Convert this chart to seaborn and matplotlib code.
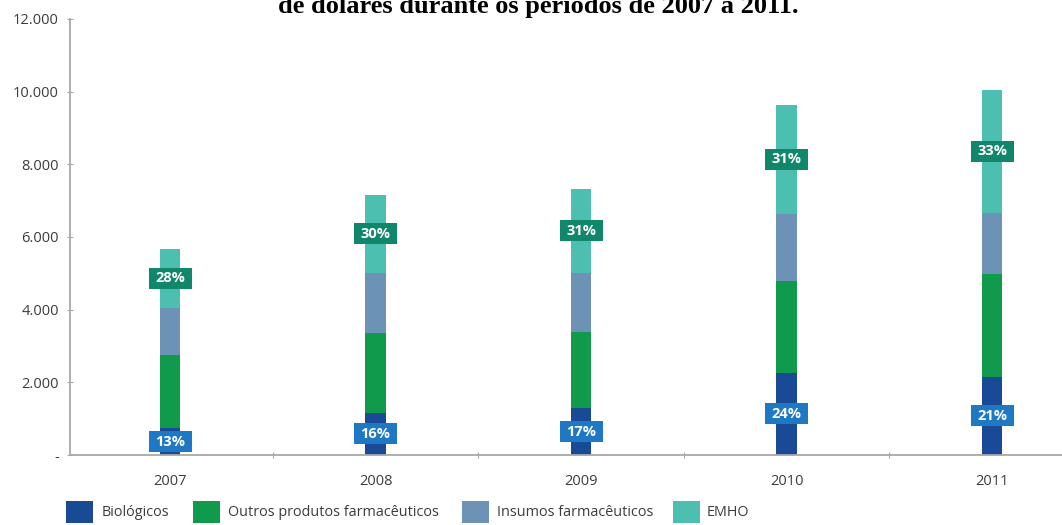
import matplotlib
matplotlib.use("Agg")
import matplotlib.pyplot as plt
import seaborn as sns
import pandas as pd
from matplotlib.patches import Rectangle

# Values in millions of US dollars
years = ["2007", "2008", "2009", "2010", "2011"]
biologicos = [740, 1160, 1290, 2260, 2150]
outros_produtos = [2010, 2200, 2100, 2530, 2840]
insumos = [1300, 1650, 1620, 1850, 1670]
emho = [1630, 2150, 2320, 3000, 3390]
pct_biologicos = ["13%", "16%", "17%", "24%", "21%"]
pct_emho = ["28%", "30%", "31%", "31%", "33%"]

series_names = ["Biológicos", "Outros produtos farmacêuticos",
                "Insumos farmacêuticos", "EMHO"]
ytick_values = [0, 2000, 4000, 6000, 8000, 10000, 12000]
ytick_labels = ["-", "2.000", "4.000", "6.000", "8.000", "10.000", "12.000"]
title_text = "de dólares durante os períodos de 2007 a 2011."

colors = ["#184a96", "#0f9a4c", "#6c93b6", "#4dbfb1"]
emho_box = "#10876b"
bio_box = "#1f78c4"
axis_grey = "#a8a8a8"
text_grey = "#3c3c3c"

sns.set_theme(style="white")
plt.rcParams["font.family"] = ["Open Sans", "DejaVu Sans"]

df = pd.DataFrame({
    "ano": years,
    "bio": biologicos,
    "outros": outros_produtos,
    "insumos": insumos,
    "emho": emho,
})
df["c1"] = df["bio"]
df["c2"] = df["c1"] + df["outros"]
df["c3"] = df["c2"] + df["insumos"]
df["c4"] = df["c3"] + df["emho"]

W, H = 1062, 525
fig = plt.figure(figsize=(W / 100, H / 100), dpi=100)
ax = fig.add_axes([70 / W, (H - 455) / H, 1 - 70 / W, (455 - 19) / H])

# stacked columns: draw cumulative totals from the top layer down
for col, c in zip(["c4", "c3", "c2", "c1"], colors[::-1]):
    sns.barplot(data=df, x="ano", y=col, color=c, width=0.1, saturation=1,
                errorbar=None, linewidth=0, ax=ax)

ax.set_ylim(0, 12000)
ax.set_xlim(-0.487, 4.34)

# percentage tags
box_w = 0.21
box_h = 580
for i in range(len(years)):
    for yc, txt, fc in [(df["c1"][i] / 2, pct_biologicos[i], bio_box),
                        (df["c3"][i] + df["emho"][i] / 2, pct_emho[i], emho_box)]:
        ax.add_patch(Rectangle((i - box_w / 2, yc - box_h / 2), box_w, box_h,
                               facecolor=fc, edgecolor="none", zorder=5))
        ax.text(i, yc, txt, ha="center", va="center", color="white",
                fontsize=10.5, fontweight="bold", zorder=6)

ax.set_xlabel("")
ax.set_ylabel("")
ax.set_yticks(ytick_values)
ax.set_yticklabels(ytick_labels)
ax.set_xticks(range(len(years)))
ax.set_xticklabels(years)
ax.set_xticks([0.5, 1.5, 2.5, 3.5], minor=True)

for s in ["top", "right"]:
    ax.spines[s].set_visible(False)
for s in ["left", "bottom"]:
    ax.spines[s].set_color(axis_grey)
    ax.spines[s].set_linewidth(1.3)

ax.tick_params(axis="y", which="major", length=4, width=0.8, direction="inout",
               color=axis_grey, labelsize=10.5, labelcolor=text_grey, pad=6, left=True)
ax.tick_params(axis="x", which="major", length=0, labelsize=10.5,
               labelcolor=text_grey, pad=14)
ax.tick_params(axis="x", which="minor", length=5, width=0.8, direction="inout",
               color=axis_grey, bottom=True)

# legend row
legend_items = [(66, 102), (193, 228), (462, 497), (673, 707)]
for (px, tx), name, c in zip(legend_items, series_names, colors):
    fig.add_artist(Rectangle((px / W, (H - 523) / H), 27 / W, 22 / H,
                             transform=fig.transFigure, facecolor=c,
                             edgecolor="none"))
    fig.text(tx / W, (H - 512) / H, name, ha="left", va="center",
             fontsize=10.4, color=text_grey)

fig.text(538 / W, 1 - 13 / H, title_text, ha="center", va="baseline",
         fontsize=19, fontweight="bold", family=["Liberation Serif"],
         color="black")

fig.savefig("out.png", dpi=100)
